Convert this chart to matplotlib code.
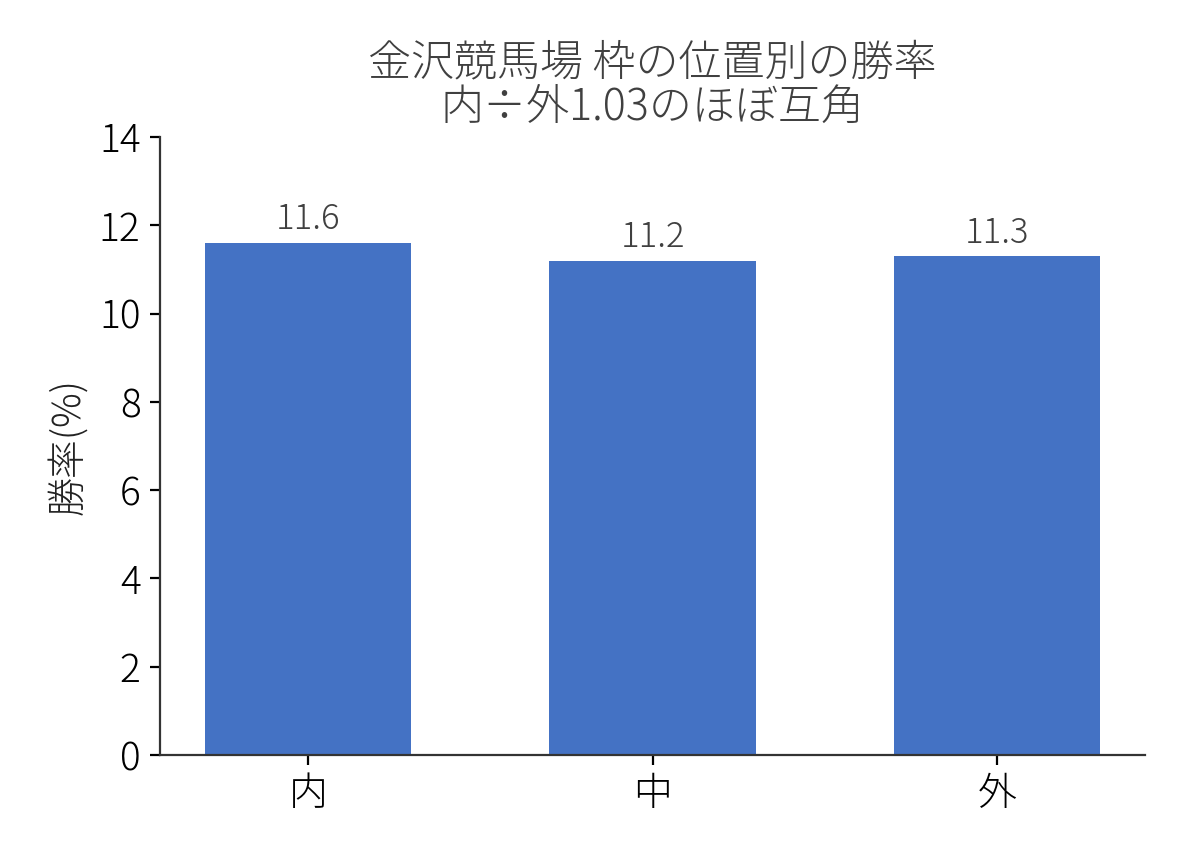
import matplotlib
matplotlib.use("Agg")
import matplotlib.pyplot as plt

plt.rcParams['font.family'] = ['Noto Sans CJK JP', 'DejaVu Sans']
plt.rcParams['font.weight'] = 'light'

categories = ['内', '中', '外']
win_rate = [11.6, 11.2, 11.3]
title = '金沢競馬場 枠の位置別の勝率\n内÷外1.03のほぼ互角'

fig, ax = plt.subplots(figsize=(5.94, 4.29), dpi=200)
fig.subplots_adjust(left=0.1347, right=0.9638, bottom=0.120, top=0.8403)

bars = ax.bar(categories, win_rate, width=0.6, color='#4472C4')
ax.bar_label(bars, labels=[f'{v:.1f}' for v in win_rate], padding=2,
             fontsize=12.5, color='#404040', fontweight='light')

ax.set_ylim(0, 14)
ax.set_yticks(range(0, 15, 2))
ax.set_ylabel('勝率(%)', fontsize=14, color='#222222', fontweight='light')
ax.set_title(title, fontsize=15.5, color='#404040', linespacing=1.0,
             fontweight='light')
ax.tick_params(labelsize=14)
ax.spines['top'].set_visible(False)
ax.spines['right'].set_visible(False)
for s in ('left', 'bottom'):
    ax.spines[s].set_color('#333333')

fig.savefig('out.png', dpi=200)
